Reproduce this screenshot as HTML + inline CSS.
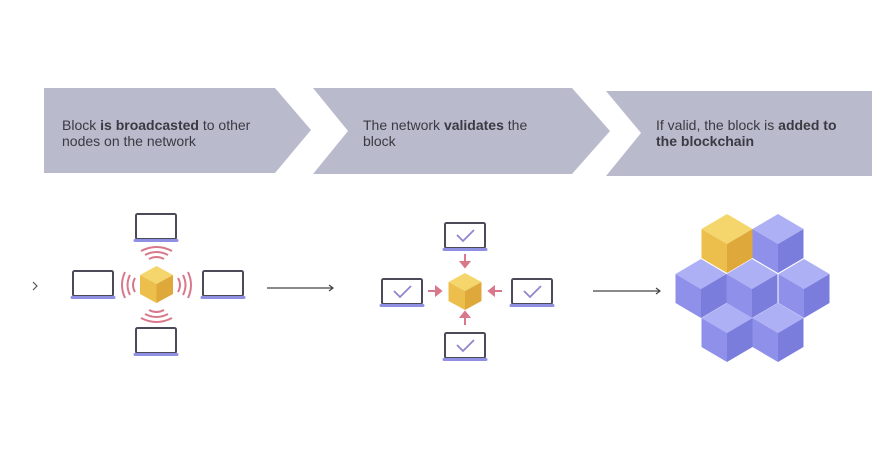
<!DOCTYPE html>
<html><head><meta charset="utf-8"><style>
html,body{margin:0;padding:0;background:#fff;width:886px;height:454px;overflow:hidden}
svg{display:block}
text{font-family:"Liberation Sans",sans-serif;font-size:14px;fill:#3a3a42}
b{font-weight:bold}
</style></head><body>
<svg width="886" height="454" viewBox="0 0 886 454" xmlns="http://www.w3.org/2000/svg">
<defs>
<g id="lap">
<rect x="1" y="1" width="40" height="25" rx="1.5" fill="#fff" stroke="#4a4a58" stroke-width="2"/>
<rect x="-1.5" y="26" width="45" height="3" rx="1.5" fill="#8f8fe3"/>
</g>
<g id="lapc">
<use href="#lap"/>
<path d="M13 13 L19 19 L30 8" fill="none" stroke="#8f86d0" stroke-width="1.8"/>
</g>
<g id="cb">
<path d="M0 -15 L25.5 0 L0 15 L-25.5 0Z" fill="#aeb0f6"/>
<path d="M-25.5 0 L0 15 L0 44 L-25.5 29Z" fill="#8e90e9"/>
<path d="M25.5 0 L0 15 L0 44 L25.5 29Z" fill="#7b7ddd"/>
</g>
<g id="cy">
<path d="M0 -15 L25.5 0 L0 15 L-25.5 0Z" fill="#f4d66c"/>
<path d="M-25.5 0 L0 15 L0 44 L-25.5 29Z" fill="#ecbe4b"/>
<path d="M25.5 0 L0 15 L0 44 L25.5 29Z" fill="#dfa83b"/>
</g>
<g id="sy">
<path d="M0 -9 L16.5 0 L0 9 L-16.5 0Z" fill="#f4d66c"/>
<path d="M-16.5 0 L0 9 L0 28 L-16.5 19Z" fill="#ecbe4b"/>
<path d="M16.5 0 L0 9 L0 28 L16.5 19Z" fill="#dfa83b"/>
</g>
</defs>
<!-- chevrons -->
<path d="M44 88 L275 88 L311 130 L275 173 L44 173Z" fill="#babacd"/>
<path d="M313 88 L572 88 L610 131 L572 174 L313 174 L348 131Z" fill="#babacd"/>
<path d="M606 91 L872 91 L872 176 L606 176 L641 133Z" fill="#babacd"/>
<text x="62" y="130">Block <tspan font-weight="bold">is broadcasted</tspan> to other</text>
<text x="62" y="146">nodes on the network</text>
<text x="363" y="130">The network <tspan font-weight="bold">validates</tspan> the</text>
<text x="363" y="146">block</text>
<text x="656" y="130">If valid, the block is <tspan font-weight="bold">added to</tspan></text>
<text x="656" y="146" font-weight="bold">the blockchain</text>
<!-- stage1 -->
<path d="M33 282 L37 286 L33 290" fill="none" stroke="#555" stroke-width="1.2"/>
<use href="#lap" x="135" y="213"/>
<use href="#lap" x="72" y="270"/>
<use href="#lap" x="202" y="270"/>
<use href="#lap" x="135" y="327"/>
<use href="#sy" x="156.5" y="275"/>
<g fill="none" stroke="#d9788a" stroke-width="2">
<path d="M149 259 Q156.5 255 164 259"/><path d="M145 255 Q156.5 249 168 255"/><path d="M141 251 Q156.5 243 172 251"/>
<path d="M149 310 Q156.5 314 164 310"/><path d="M145 314 Q156.5 320 168 314"/><path d="M141 318 Q156.5 326 172 318"/>
<path d="M135 278 Q131 285 135 292"/><path d="M130 275 Q125 285 130 295"/><path d="M125 272 Q119 285 125 298"/>
<path d="M178 278 Q182 285 178 292"/><path d="M183 275 Q188 285 183 295"/><path d="M188 272 Q194 285 188 298"/>
</g>
<g stroke="#444" stroke-width="1.2" fill="none">
<path d="M267 288 L333 288"/><path d="M329 285 L333 288 L329 291"/>
<path d="M593 291 L660 291"/><path d="M656 288 L660 291 L656 294"/>
</g>
<!-- stage2 -->
<use href="#lapc" x="444" y="222"/>
<use href="#lapc" x="381" y="278"/>
<use href="#lapc" x="511" y="278"/>
<use href="#lapc" x="444" y="332"/>
<use href="#sy" x="465" y="282"/>
<g stroke="#d9788a" stroke-width="2" fill="#d9788a">
<path d="M465 254 L465 264"/><path d="M461 262 L465 267 L469 262Z"/>
<path d="M465 325 L465 315"/><path d="M461 317 L465 312 L469 317Z"/>
<path d="M428 291 L438 291"/><path d="M436 287 L441 291 L436 295Z"/>
<path d="M502 291 L492 291"/><path d="M494 287 L489 291 L494 295Z"/>
</g>
<!-- stage3 -->
<use href="#cy" x="727" y="229"/>
<use href="#cb" x="778" y="229"/>
<use href="#cb" x="701" y="274"/>
<use href="#cb" x="752" y="274"/>
<use href="#cb" x="804" y="274"/>
<use href="#cb" x="727" y="318"/>
<use href="#cb" x="778" y="318"/>
</svg>
</body></html>
